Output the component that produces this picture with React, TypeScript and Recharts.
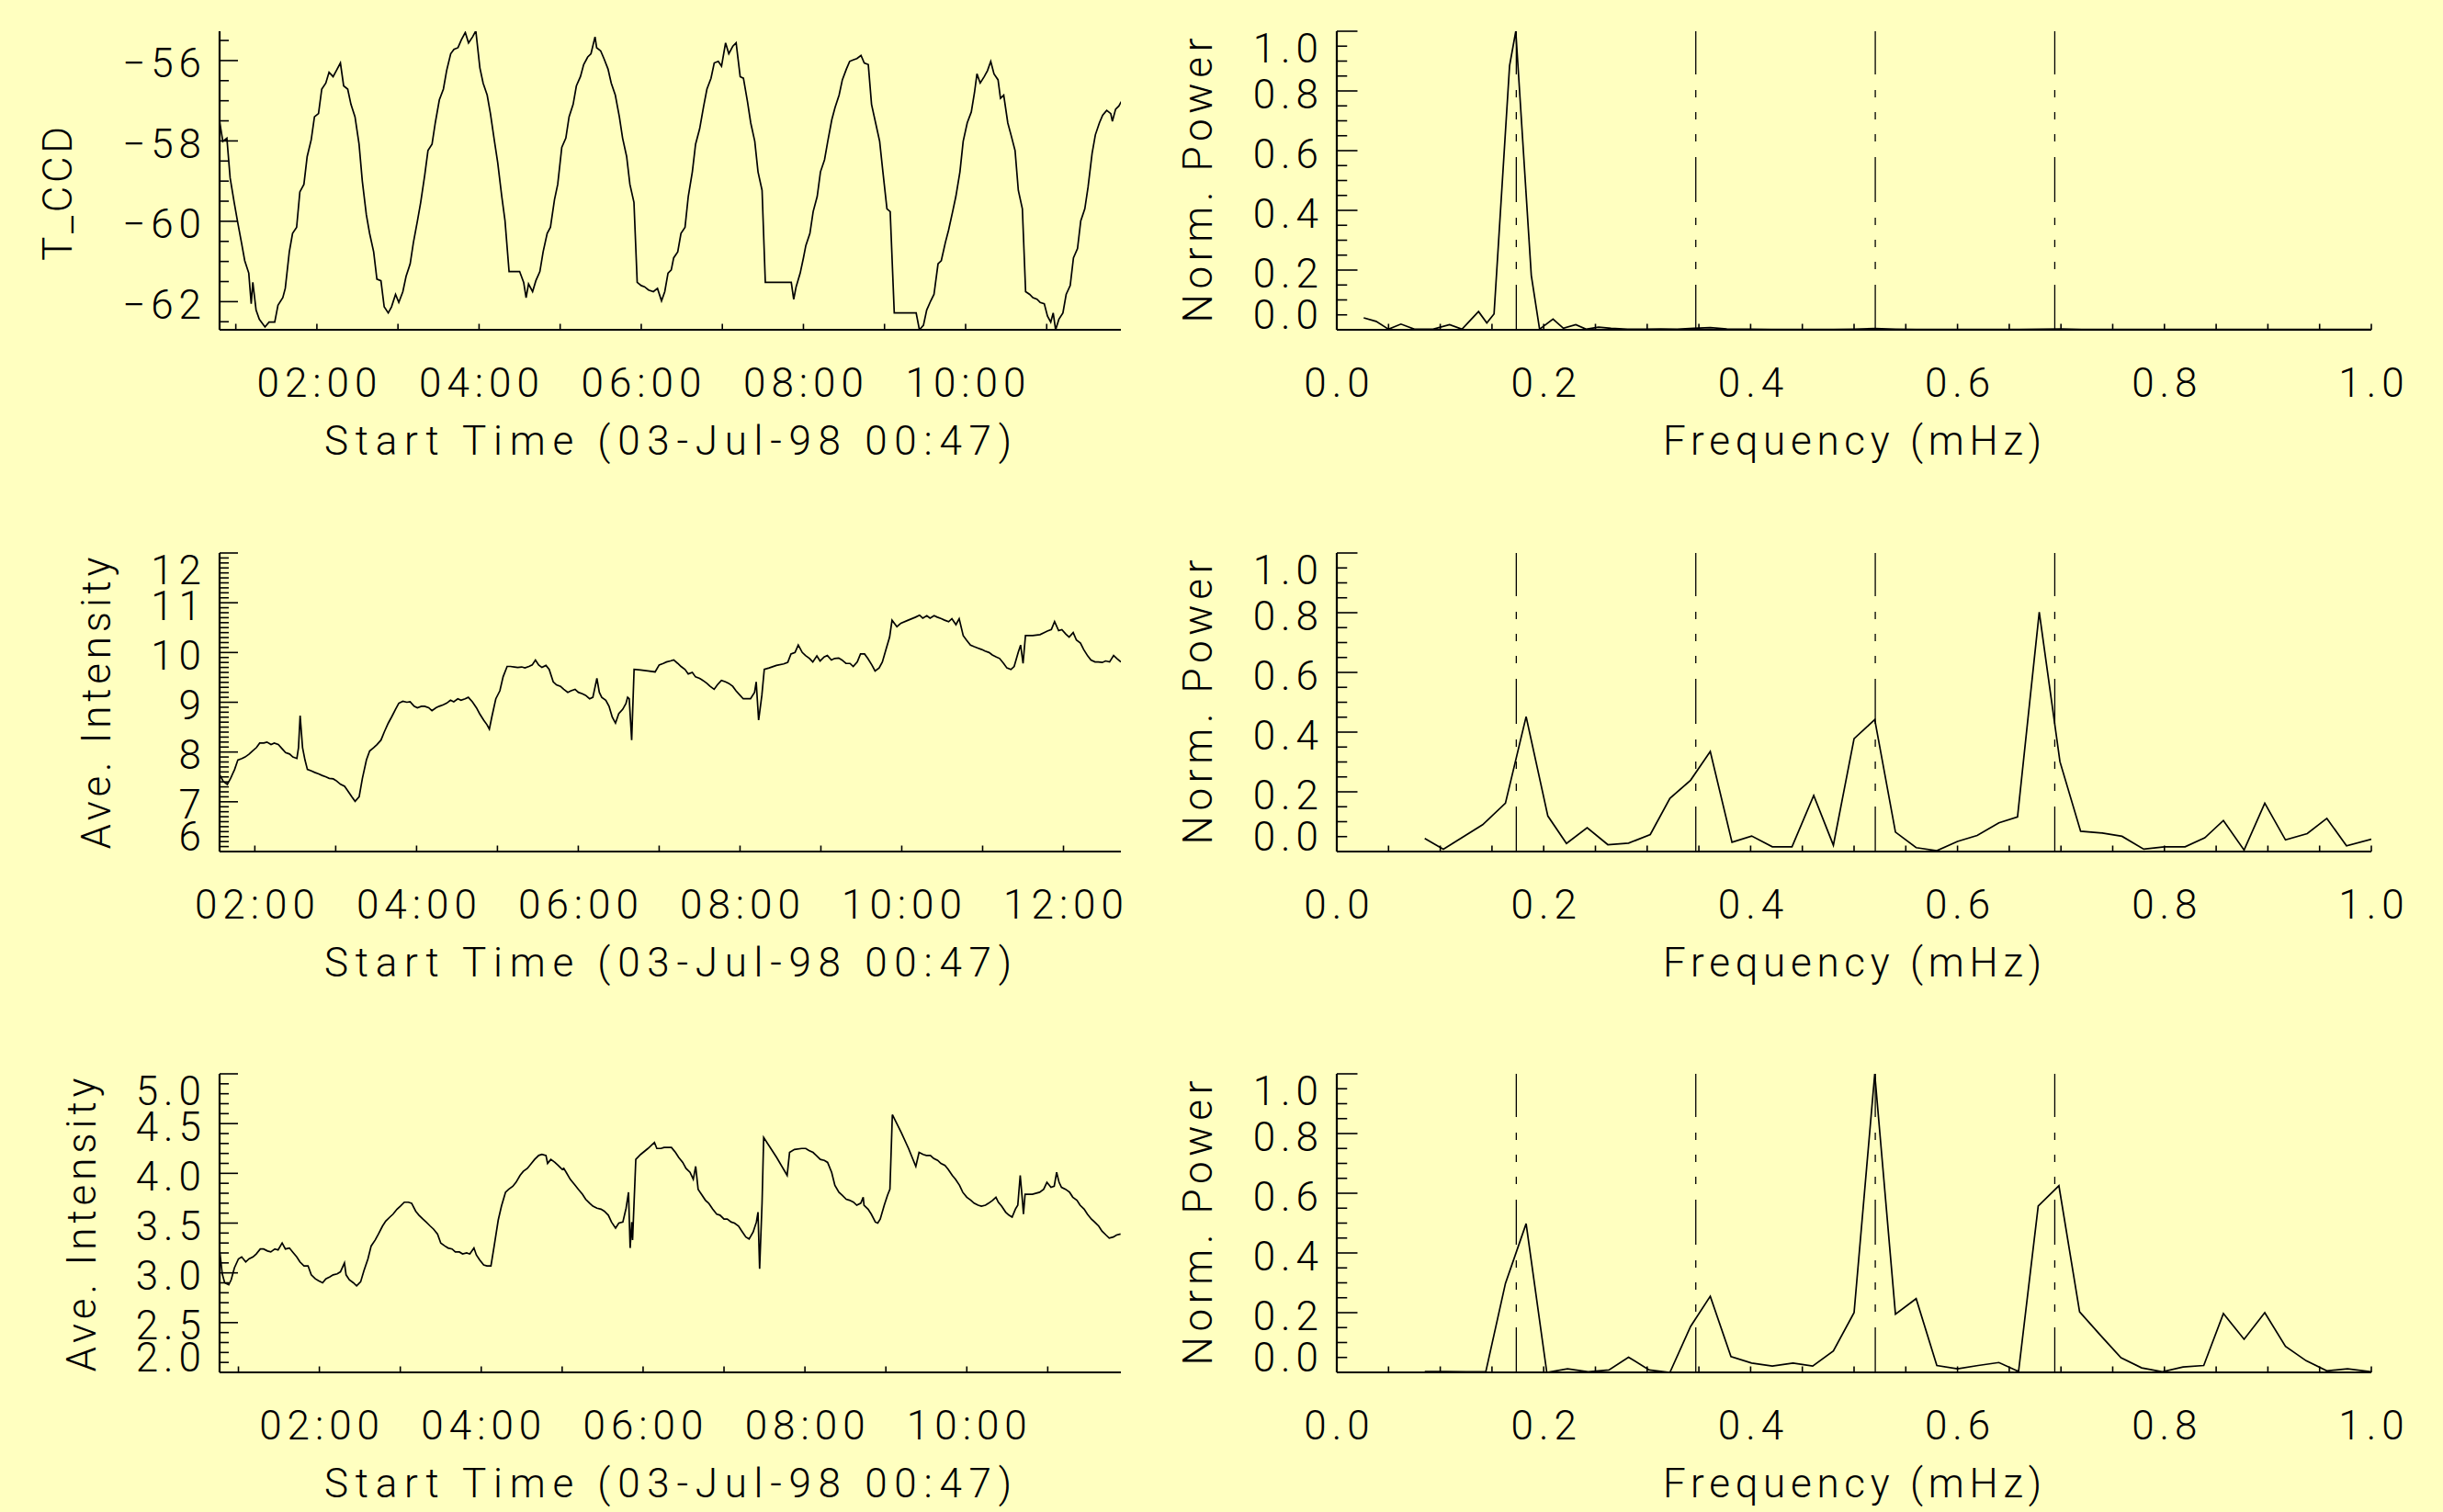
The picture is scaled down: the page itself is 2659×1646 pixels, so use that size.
import React from 'react';
import { LineChart, Line, XAxis, YAxis, ReferenceLine } from 'recharts';

// ---------------- data ----------------
// Panel 1: CCD temperature vs time (hours of 03-Jul-98)
const tccdTime = [
  0.80,0.84,0.89,0.93,0.98,1.02,1.07,1.11,1.16,1.19,
  1.21,1.25,1.29,1.36,1.41,1.48,1.52,1.58,1.61,1.66,
  1.70,1.75,1.79,1.84,1.88,1.93,1.97,2.02,2.06,2.11,
  2.15,2.20,2.24,2.29,2.33,2.38,2.42,2.47,2.52,2.56,
  2.61,2.65,2.70,2.74,2.79,2.83,2.88,2.92,2.97,3.01,
  3.06,3.10,3.15,3.19,3.24,3.28,3.33,3.37,3.42,3.46,
  3.51,3.56,3.60,3.65,3.69,3.74,3.78,3.83,3.87,3.92,
  3.96,4.01,4.05,4.10,4.14,4.19,4.23,4.28,4.32,4.37,
  4.41,4.46,4.50,4.55,4.58,4.61,4.66,4.70,4.75,4.79,
  4.84,4.88,4.93,4.97,5.02,5.07,5.11,5.16,5.20,5.25,
  5.29,5.34,5.38,5.43,5.45,5.50,5.54,5.59,5.63,5.68,
  5.73,5.77,5.82,5.86,5.91,5.95,6.00,6.04,6.09,6.15,
  6.20,6.25,6.29,6.33,6.37,6.40,6.45,6.49,6.54,6.58,
  6.63,6.67,6.72,6.77,6.81,6.86,6.90,6.95,6.99,7.04,
  7.08,7.13,7.17,7.22,7.26,7.31,7.35,7.40,7.44,7.49,
  7.53,7.62,7.76,7.85,7.88,7.91,7.96,8.00,8.03,8.08,
  8.12,8.17,8.21,8.26,8.30,8.35,8.39,8.44,8.48,8.53,
  8.57,8.62,8.66,8.71,8.75,8.80,8.84,8.89,8.94,8.98,
  9.03,9.07,9.12,9.21,9.34,9.39,9.43,9.48,9.52,9.57,
  9.61,9.66,9.70,9.75,9.79,9.84,9.88,9.93,9.97,10.02,
  10.07,10.11,10.14,10.18,10.23,10.27,10.31,10.35,10.40,10.43,
  10.47,10.52,10.56,10.61,10.65,10.70,10.74,10.79,10.83,10.88,
  10.92,10.97,11.01,11.05,11.08,11.11,11.15,11.20,11.24,11.29,
  11.33,11.38,11.42,11.47,11.51,11.56,11.60,11.65,11.69,11.74,
  11.79,11.81,11.85,11.89,11.92,
];
const tccdValue = [
  -57.51,-58.01,-57.93,-58.92,-59.53,-59.99,-60.53,-60.98,-61.29,-62.05,
  -61.52,-62.21,-62.44,-62.63,-62.51,-62.51,-62.09,-61.90,-61.67,-60.76,
  -60.30,-60.15,-59.27,-59.08,-58.39,-57.97,-57.40,-57.32,-56.71,-56.56,
  -56.29,-56.40,-56.25,-56.06,-56.63,-56.71,-57.09,-57.40,-58.08,-59.00,
  -59.84,-60.30,-60.76,-61.44,-61.48,-62.13,-62.28,-62.13,-61.82,-62.02,
  -61.75,-61.37,-61.06,-60.53,-59.99,-59.53,-58.85,-58.24,-58.08,-57.55,
  -56.98,-56.71,-56.25,-55.83,-55.72,-55.68,-55.49,-55.30,-55.56,-55.41,
  -55.26,-56.18,-56.56,-56.86,-57.32,-58.01,-58.54,-59.38,-59.99,-61.25,
  -61.25,-61.25,-61.25,-61.52,-61.90,-61.56,-61.75,-61.48,-61.25,-60.76,
  -60.30,-60.15,-59.46,-59.08,-58.16,-57.93,-57.40,-57.09,-56.63,-56.40,
  -56.10,-55.91,-55.83,-55.41,-55.68,-55.76,-55.95,-56.21,-56.56,-56.86,
  -57.40,-57.93,-58.39,-59.08,-59.53,-61.52,-61.60,-61.63,-61.71,-61.75,
  -61.67,-61.98,-61.75,-61.29,-61.21,-60.91,-60.76,-60.30,-60.15,-59.38,
  -58.77,-58.08,-57.70,-57.13,-56.71,-56.44,-56.06,-56.02,-56.14,-55.56,
  -55.83,-55.64,-55.56,-56.40,-56.44,-57.02,-57.55,-58.01,-58.77,-59.23,
  -61.52,-61.52,-61.52,-61.52,-61.94,-61.63,-61.29,-60.91,-60.60,-60.30,
  -59.76,-59.38,-58.77,-58.47,-58.01,-57.47,-57.17,-56.86,-56.48,-56.21,
  -56.02,-55.98,-55.95,-55.87,-56.06,-56.10,-57.09,-57.55,-58.01,-58.77,
  -59.69,-59.76,-62.28,-62.28,-62.28,-62.28,-62.70,-62.59,-62.21,-61.98,
  -61.82,-61.06,-60.98,-60.53,-60.22,-59.76,-59.38,-58.77,-58.01,-57.55,
  -57.28,-56.79,-56.33,-56.56,-56.40,-56.25,-56.02,-56.33,-56.48,-56.94,
  -56.86,-57.55,-57.85,-58.24,-59.23,-59.69,-61.75,-61.82,-61.90,-61.94,
  -62.02,-62.05,-62.36,-62.51,-62.28,-62.70,-62.44,-62.28,-61.82,-61.60,
  -60.91,-60.68,-59.99,-59.69,-59.15,-58.31,-57.85,-57.55,-57.36,-57.24,
  -57.32,-57.51,-57.21,-57.13,-57.02,
];

// Panel 3: average intensity (first region)
const int1Time = [
  1.57,1.61,1.66,1.70,1.75,1.79,1.84,1.88,1.93,1.97,
  2.02,2.06,2.11,2.15,2.20,2.24,2.29,2.34,2.38,2.43,
  2.47,2.52,2.54,2.56,2.59,2.62,2.65,2.70,2.74,2.79,
  2.83,2.88,2.92,2.97,3.01,3.06,3.11,3.15,3.20,3.24,
  3.29,3.33,3.38,3.42,3.47,3.51,3.56,3.60,3.65,3.69,
  3.74,3.78,3.83,3.88,3.92,3.97,4.01,4.06,4.10,4.15,
  4.19,4.24,4.28,4.33,4.37,4.42,4.46,4.51,4.55,4.60,
  4.64,4.69,4.74,4.78,4.83,4.87,4.90,4.93,4.98,5.03,
  5.07,5.12,5.16,5.21,5.25,5.30,5.34,5.39,5.43,5.47,
  5.51,5.55,5.60,5.64,5.69,5.73,5.78,5.82,5.87,5.91,
  5.96,6.00,6.05,6.09,6.14,6.18,6.23,6.26,6.29,6.34,
  6.38,6.42,6.46,6.50,6.55,6.59,6.61,6.63,6.66,6.69,
  6.77,6.86,6.95,7.00,7.05,7.09,7.14,7.18,7.23,7.27,
  7.32,7.36,7.41,7.45,7.50,7.54,7.59,7.63,7.68,7.72,
  7.77,7.82,7.86,7.91,7.95,8.00,8.04,8.09,8.13,8.18,
  8.20,8.23,8.27,8.30,8.36,8.45,8.54,8.59,8.63,8.68,
  8.72,8.77,8.81,8.86,8.90,8.95,8.99,9.04,9.08,9.13,
  9.17,9.22,9.26,9.31,9.36,9.40,9.45,9.49,9.54,9.58,
  9.63,9.67,9.72,9.76,9.81,9.85,9.88,9.94,9.99,10.08,
  10.17,10.22,10.26,10.31,10.35,10.40,10.44,10.49,10.53,10.58,
  10.62,10.67,10.71,10.76,10.80,10.85,10.89,10.94,10.99,11.03,
  11.08,11.12,11.17,11.21,11.26,11.30,11.35,11.39,11.44,11.47,
  11.50,11.53,11.62,11.71,11.76,11.80,11.85,11.89,11.94,11.98,
  12.03,12.07,12.12,12.16,12.21,12.25,12.30,12.34,12.39,12.43,
  12.48,12.52,12.57,12.62,12.66,12.71,
];
const int1Value = [
  7.53,7.41,7.35,7.47,7.65,7.84,7.87,7.90,7.96,8.02,
  8.09,8.18,8.18,8.20,8.15,8.18,8.15,8.06,7.99,7.96,
  7.90,7.87,8.09,8.73,8.09,7.84,7.65,7.62,7.59,7.56,
  7.53,7.50,7.47,7.46,7.42,7.35,7.31,7.22,7.10,7.01,
  7.10,7.47,7.84,8.02,8.09,8.15,8.24,8.40,8.58,8.70,
  8.86,8.98,9.02,9.00,9.01,8.92,8.89,8.92,8.92,8.89,
  8.83,8.89,8.92,8.95,8.98,9.04,9.01,9.07,9.04,9.07,
  9.10,9.01,8.89,8.77,8.64,8.55,8.46,8.70,9.07,9.23,
  9.51,9.72,9.72,9.71,9.70,9.71,9.69,9.72,9.75,9.85,
  9.75,9.70,9.74,9.66,9.41,9.35,9.32,9.26,9.20,9.23,
  9.26,9.20,9.17,9.14,9.07,9.10,9.48,9.20,9.10,9.04,
  8.92,8.70,8.58,8.77,8.86,8.98,9.10,9.07,8.24,9.66,
  9.65,9.63,9.61,9.75,9.78,9.81,9.83,9.85,9.78,9.72,
  9.66,9.57,9.60,9.51,9.48,9.44,9.38,9.32,9.26,9.35,
  9.44,9.41,9.38,9.32,9.23,9.14,9.07,9.07,9.07,9.20,
  9.41,8.64,9.14,9.66,9.69,9.74,9.77,9.80,9.97,10.00,
  10.15,10.00,9.94,9.88,9.81,9.93,9.83,9.91,9.94,9.85,
  9.88,9.89,9.85,9.78,9.78,9.72,9.81,9.97,9.97,9.88,
  9.75,9.63,9.69,9.81,10.09,10.31,10.65,10.52,10.59,10.65,
  10.71,10.75,10.69,10.74,10.69,10.74,10.71,10.68,10.65,10.62,
  10.68,10.56,10.68,10.34,10.25,10.15,10.12,10.09,10.06,10.03,
  10.00,9.95,9.91,9.88,9.78,9.69,9.66,9.72,10.00,10.15,
  9.78,10.34,10.34,10.36,10.40,10.43,10.46,10.62,10.44,10.46,
  10.37,10.31,10.40,10.25,10.19,10.06,9.93,9.85,9.81,9.81,
  9.80,9.83,9.81,9.94,9.88,9.81,
];

// Panel 5: average intensity (second region)
const int2Time = [
  0.77,0.80,0.83,0.88,0.91,0.95,1.00,1.04,1.09,1.13,
  1.18,1.22,1.27,1.31,1.36,1.40,1.45,1.49,1.54,1.58,
  1.63,1.67,1.72,1.76,1.81,1.86,1.90,1.95,1.99,2.04,
  2.08,2.13,2.17,2.22,2.26,2.31,2.33,2.37,2.42,2.46,
  2.51,2.55,2.60,2.64,2.69,2.73,2.78,2.82,2.87,2.91,
  2.96,3.00,3.05,3.10,3.14,3.19,3.23,3.28,3.32,3.37,
  3.41,3.46,3.50,3.55,3.59,3.64,3.68,3.73,3.77,3.82,
  3.86,3.91,3.94,3.98,4.03,4.07,4.12,4.16,4.21,4.25,
  4.30,4.34,4.39,4.43,4.48,4.52,4.57,4.62,4.66,4.71,
  4.75,4.80,4.82,4.86,4.91,4.95,5.00,5.02,5.05,5.10,
  5.16,5.20,5.25,5.29,5.34,5.38,5.43,5.48,5.52,5.57,
  5.61,5.66,5.70,5.75,5.79,5.82,5.84,5.86,5.87,5.91,
  5.97,6.06,6.14,6.17,6.22,6.26,6.31,6.35,6.40,6.44,
  6.49,6.53,6.58,6.62,6.65,6.68,6.72,6.77,6.81,6.86,
  6.91,6.95,7.00,7.04,7.09,7.13,7.18,7.22,7.27,7.31,
  7.36,7.40,7.42,7.44,7.47,7.49,7.65,7.78,7.81,7.87,
  7.96,8.01,8.05,8.10,8.14,8.19,8.24,8.28,8.33,8.37,
  8.42,8.46,8.51,8.55,8.60,8.64,8.69,8.72,8.73,8.78,
  8.82,8.87,8.90,8.93,8.98,9.02,9.05,9.08,9.19,9.28,
  9.37,9.41,9.46,9.50,9.55,9.59,9.64,9.68,9.73,9.77,
  9.82,9.86,9.91,9.95,10.00,10.05,10.09,10.14,10.18,10.23,
  10.27,10.32,10.36,10.39,10.43,10.48,10.52,10.56,10.60,10.63,
  10.66,10.69,10.70,10.72,10.81,10.90,10.95,10.99,11.04,11.08,
  11.11,11.14,11.17,11.22,11.27,11.31,11.36,11.40,11.45,11.49,
  11.54,11.58,11.63,11.67,11.72,11.76,11.81,11.85,11.90,
];
const int2Value = [
  3.21,2.99,2.90,2.88,2.93,3.05,3.14,3.16,3.11,3.14,
  3.16,3.19,3.24,3.24,3.22,3.21,3.24,3.23,3.30,3.24,
  3.25,3.21,3.16,3.11,3.07,3.07,2.98,2.94,2.92,2.90,
  2.94,2.96,2.98,2.99,3.01,3.10,2.98,2.93,2.90,2.87,
  2.91,3.02,3.14,3.27,3.33,3.39,3.47,3.52,3.56,3.59,
  3.64,3.67,3.71,3.71,3.70,3.62,3.58,3.54,3.51,3.47,
  3.44,3.39,3.30,3.27,3.25,3.24,3.21,3.21,3.19,3.20,
  3.19,3.25,3.18,3.13,3.08,3.07,3.07,3.27,3.53,3.67,
  3.81,3.84,3.87,3.91,3.98,4.02,4.05,4.10,4.14,4.18,
  4.19,4.18,4.10,4.14,4.11,4.08,4.04,4.05,4.01,3.94,
  3.88,3.84,3.79,3.74,3.70,3.67,3.65,3.64,3.62,3.58,
  3.51,3.45,3.50,3.51,3.65,3.81,3.25,3.51,3.33,4.14,
  4.19,4.25,4.31,4.25,4.25,4.26,4.26,4.26,4.21,4.16,
  4.11,4.05,4.01,3.94,4.07,3.84,3.79,3.73,3.70,3.64,
  3.59,3.58,3.54,3.54,3.51,3.50,3.47,3.42,3.36,3.34,
  3.41,3.51,3.61,3.04,3.70,4.36,4.16,3.98,4.21,4.24,
  4.25,4.25,4.23,4.21,4.18,4.14,4.13,4.11,4.01,3.88,
  3.81,3.78,3.74,3.73,3.71,3.68,3.70,3.76,3.68,3.64,
  3.59,3.51,3.50,3.54,3.68,3.78,3.84,4.59,4.41,4.25,
  4.07,4.21,4.19,4.18,4.18,4.15,4.13,4.10,4.08,4.04,
  3.98,3.94,3.88,3.81,3.76,3.73,3.70,3.68,3.67,3.68,
  3.70,3.73,3.76,3.71,3.67,3.61,3.58,3.56,3.64,3.68,
  3.98,3.70,3.59,3.79,3.79,3.81,3.84,3.91,3.86,3.87,
  4.01,3.91,3.86,3.84,3.81,3.76,3.73,3.68,3.64,3.59,
  3.54,3.51,3.47,3.42,3.38,3.35,3.36,3.38,3.39,
];

// Power spectra (normalised)
const spec1Freq = [
  0.026,0.038,0.050,0.062,0.075,0.093,0.109,0.121,0.137,0.145,
  0.152,0.167,0.173,0.188,0.196,0.209,0.219,0.231,0.241,0.253,
  0.265,0.281,0.297,0.313,0.329,0.345,0.361,0.377,0.400,0.420,
  0.440,0.460,0.480,0.500,0.520,0.540,0.560,0.580,0.600,0.620,
  0.640,0.660,0.680,0.700,0.720,0.740,0.760,0.780,0.800,0.820,
  0.840,0.860,0.880,0.900,0.920,0.940,0.960,0.980,1.000,
];
const spec1Power = [
  0.040,0.028,0.002,0.019,0.002,0.002,0.017,0.002,0.061,0.023,
  0.053,0.884,1.000,0.182,0.002,0.036,0.005,0.017,0.002,0.009,
  0.005,0.002,0.002,0.003,0.002,0.005,0.007,0.003,0.002,0.001,
  0.001,0.001,0.001,0.002,0.004,0.002,0.001,0.001,0.001,0.001,
  0.001,0.001,0.002,0.003,0.001,0.001,0.001,0.001,0.001,0.001,
  0.001,0.001,0.001,0.001,0.001,0.001,0.001,0.001,0.001,
];
const spec2Freq = [
  0.085,0.103,0.141,0.163,0.183,0.204,0.222,0.242,0.262,0.282,
  0.303,0.322,0.342,0.361,0.382,0.401,0.421,0.440,0.461,0.480,
  0.500,0.520,0.540,0.560,0.580,0.600,0.619,0.640,0.658,0.679,
  0.699,0.719,0.740,0.759,0.780,0.800,0.820,0.839,0.857,0.877,
  0.897,0.917,0.938,0.957,0.976,1.000,
];
const spec2Power = [
  0.044,0.008,0.090,0.162,0.452,0.119,0.027,0.080,0.023,0.028,
  0.057,0.178,0.239,0.335,0.031,0.052,0.016,0.016,0.188,0.021,
  0.378,0.442,0.065,0.013,0.003,0.034,0.054,0.096,0.116,0.802,
  0.301,0.068,0.062,0.051,0.008,0.016,0.016,0.046,0.104,0.005,
  0.162,0.039,0.060,0.111,0.019,0.041,
];
const spec3Freq = [
  0.085,0.105,0.125,0.144,0.163,0.183,0.203,0.223,0.243,0.263,
  0.282,0.302,0.322,0.342,0.361,0.381,0.401,0.421,0.441,0.460,
  0.480,0.500,0.520,0.540,0.560,0.580,0.600,0.620,0.640,0.659,
  0.678,0.698,0.718,0.738,0.758,0.778,0.798,0.818,0.838,0.857,
  0.877,0.897,0.917,0.937,0.957,0.977,1.000,
];
const spec3Power = [
  0.003,0.003,0.002,0.002,0.298,0.498,0.000,0.012,0.002,0.008,
  0.051,0.008,0.000,0.154,0.255,0.053,0.031,0.021,0.031,0.021,
  0.072,0.200,1.000,0.195,0.247,0.023,0.012,0.023,0.033,0.003,
  0.557,0.625,0.203,0.125,0.049,0.015,0.002,0.018,0.023,0.197,
  0.111,0.200,0.087,0.039,0.005,0.012,0.002,
];
// harmonics of the fundamental (mHz), drawn as dash-dot lines
const harmonicFreqs = [0.1735, 0.347, 0.5205, 0.694];

// ---------------- ticks ----------------
const range = (a: number, b: number, step: number) => {
  const out: number[] = [];
  const n = Math.round((b - a) / step);
  for (let i = 0; i <= n; i++) out.push(+(a + i * step).toFixed(4));
  return out;
};
const hourTicksEarly = [1, 2, 3, 4, 5, 6, 7, 8, 9, 10, 11];
const hourLabelsEarly = [2, 4, 6, 8, 10];
const hourTicksLate = [2, 3, 4, 5, 6, 7, 8, 9, 10, 11, 12];
const hourLabelsLate = [2, 4, 6, 8, 10, 12];
const freqTicks = range(0, 1, 0.05);
const freqLabels = [0, 0.2, 0.4, 0.6, 0.8, 1.0];
const tccdTicks = range(-62.5, -55.5, 0.5);
const tccdLabels = [-62, -60, -58, -56];
const int1Ticks = range(6, 12, 0.1);
const int1Labels = [6, 7, 8, 9, 10, 11, 12];
const int2Ticks = range(2, 5, 0.1);
const int2Labels = [2, 2.5, 3, 3.5, 4, 4.5, 5];
const powerTicks = range(0, 1, 0.05);
const powerLabels = [0, 0.2, 0.4, 0.6, 0.8, 1.0];

// ---------------- style ----------------
const BG = '#FFFFC0';
const INK = '#000000';
const FONT = 'Roboto, "Liberation Sans", "DejaVu Sans", sans-serif';
const TICK_STYLE: React.CSSProperties = { fontFamily: FONT, fontSize: 44, fontWeight: 300, letterSpacing: 6, fill: INK };
const TITLE_STYLE: React.CSSProperties = { fontFamily: FONT, fontSize: 44, fontWeight: 300, fill: INK };
const T = 34;
const PH = 325;
const CH = 512;
const DASH = '49 17 8 16 8 16 8 17';

const hourFmt = (v: number) => `${String(v).padStart(2, '0')}:00`;
const minusFmt = (v: number) => (v < 0 ? '\u2212' + String(Math.abs(v)) : String(v));
const oneDec = (v: number) => v.toFixed(1);
const intFmt = (v: number) => String(v);

type PanelCfg = {
  originX: number; originY: number; plotLeft: number; plotW: number; chartW: number;
  xs: number[]; ys: number[];
  xDomain: [number, number]; yDomain: [number, number];
  xTicks: number[]; xLabels: number[]; xFmt: (v: number) => string;
  yTicks: number[]; yLabels: number[]; yFmt: (v: number) => string;
  yMajorLen: number; xTickLen: number;
  xTitle: string; xTitleLen: number; xTitleCx: number;
  yTitle: string; yTitleLen: number; yTitleBx: number; yTitleCy: number;
  refs?: number[];
};

const near = (arr: number[], v: number) => arr.some((a) => Math.abs(a - v) < 1e-6);

function XTitle({ text, tx, ty, len }: any) {
  return (
    <text x={tx} y={ty} textAnchor="middle" textLength={len} lengthAdjust="spacing" style={TITLE_STYLE}>
      {text}
    </text>
  );
}
function YTitle({ text, tx, ty, len }: any) {
  return (
    <text x={tx} y={ty} transform={`rotate(-90 ${tx} ${ty})`} textAnchor="middle" textLength={len} lengthAdjust="spacing" style={TITLE_STYLE}>
      {text}
    </text>
  );
}

function Panel({ c }: { c: PanelCfg }) {
  const data = c.xs.map((x, i) => ({ x, y: c.ys[i] }));
  const bottom = T + PH;
  const axL = c.plotLeft;
  const axR = c.plotLeft + c.plotW;
  const axisLine = { stroke: INK, strokeWidth: 2.2 };

  const bottomTick = (p: any) => {
    const x = p.payload?.coordinate ?? p.x;
    const v = p.payload?.value;
    return (
      <g>
        <line x1={x} x2={x} y1={bottom} y2={bottom - c.xTickLen} stroke={INK} strokeWidth={1.6} />
        {near(c.xLabels, v) && (
          <text x={x + 3} y={bottom + 73} textAnchor="middle" style={TICK_STYLE}>{c.xFmt(v)}</text>
        )}
      </g>
    );
  };
  const topTick = (p: any) => {
    const x = p.payload?.coordinate ?? p.x;
    return <line x1={x} x2={x} y1={T} y2={T + c.xTickLen} stroke={INK} strokeWidth={1.6} />;
  };
  const leftTick = (p: any) => {
    const y = p.payload?.coordinate ?? p.y;
    const v = p.payload?.value;
    const major = near(c.yLabels, v);
    const len = major ? c.yMajorLen : c.yMajorLen / 2;
    let off = 3;
    if (Math.abs(v - c.yDomain[1]) < 1e-6) off = 18;
    else if (Math.abs(v - c.yDomain[0]) < 1e-6) off = -17;
    return (
      <g>
        <line x1={axL} x2={axL + len} y1={y} y2={y} stroke={INK} strokeWidth={1.6} />
        {major && (
          <text x={axL - 14} y={y + off + 15.5} textAnchor="end" style={TICK_STYLE}>{c.yFmt(v)}</text>
        )}
      </g>
    );
  };
  const rightTick = (p: any) => {
    const y = p.payload?.coordinate ?? p.y;
    const v = p.payload?.value;
    const len = near(c.yLabels, v) ? c.yMajorLen : c.yMajorLen / 2;
    return <line x1={axR} x2={axR - len} y1={y} y2={y} stroke={INK} strokeWidth={1.6} />;
  };

  return (
    <div style={{ position: 'absolute', left: c.originX, top: c.originY }}>
      <LineChart
        width={c.chartW}
        height={CH}
        data={data}
        margin={{ top: T, right: c.chartW - axR, bottom: 0, left: 0 }}
      >
        <XAxis
          xAxisId="b" dataKey="x" type="number" domain={c.xDomain} ticks={c.xTicks} interval={0}
          allowDataOverflow height={CH - T - PH} tick={bottomTick} tickLine={false} axisLine={axisLine}
          label={<XTitle text={c.xTitle} tx={c.xTitleCx} ty={bottom + 136} len={c.xTitleLen} />}
        />
        <XAxis
          xAxisId="t" orientation="top" dataKey="x" type="number" domain={c.xDomain} ticks={c.xTicks}
          interval={0} allowDataOverflow height={0} tick={topTick} tickLine={false} axisLine={axisLine}
        />
        <YAxis
          yAxisId="l" type="number" domain={c.yDomain} ticks={c.yTicks} interval={0} allowDataOverflow
          width={c.plotLeft} tick={leftTick} tickLine={false} axisLine={axisLine}
          label={<YTitle text={c.yTitle} tx={c.yTitleBx} ty={c.yTitleCy} len={c.yTitleLen} />}
        />
        <YAxis
          yAxisId="r" orientation="right" type="number" domain={c.yDomain} ticks={c.yTicks} interval={0}
          allowDataOverflow width={0} tick={rightTick} tickLine={false} axisLine={axisLine}
        />
        {(c.refs || []).map((f) => (
          <ReferenceLine key={f} x={f} xAxisId="b" yAxisId="l" stroke={INK} strokeWidth={1.3} strokeDasharray={DASH} />
        ))}
        <Line
          xAxisId="b" yAxisId="l" dataKey="y" type="linear" dot={false} activeDot={false}
          stroke={INK} strokeWidth={1.7} isAnimationActive={false}
        />
      </LineChart>
    </div>
  );
}

const LEFT = { originX: 0, plotLeft: 239, plotW: 981, chartW: 1240, yMajorLen: 20, xTickLen: 6.5 };
const RIGHT = { originX: 1250, plotLeft: 205, plotW: 1126, chartW: 1409, yMajorLen: 22.5, xTickLen: 6.5 };
const TIME_TITLE = 'Start Time (03-Jul-98 00:47)';
const FREQ_TITLE = 'Frequency (mHz)';

const specPanel = (originY: number, xs: number[], ys: number[]): PanelCfg => ({
  ...RIGHT, originY, xs, ys,
  xDomain: [0, 1], yDomain: [0, 1],
  xTicks: freqTicks, xLabels: freqLabels, xFmt: oneDec,
  yTicks: powerTicks, yLabels: powerLabels, yFmt: oneDec,
  xTitle: FREQ_TITLE, xTitleLen: 412, xTitleCx: 766,
  yTitle: 'Norm. Power', yTitleLen: 310, yTitleBx: 69, yTitleCy: T + PH / 2,
  refs: harmonicFreqs,
});

const panels: PanelCfg[] = [
  {
    ...LEFT, originY: 0, xs: tccdTime, ys: tccdValue,
    xDomain: [0.80, 11.915], yDomain: [-62.70, -55.27],
    xTicks: hourTicksEarly, xLabels: hourLabelsEarly, xFmt: hourFmt,
    yTicks: tccdTicks, yLabels: tccdLabels, yFmt: minusFmt,
    xTitle: TIME_TITLE, xTitleLen: 748, xTitleCx: 727,
    yTitle: 'T_CCD', yTitleLen: 146, yTitleBx: 78, yTitleCy: 211,
  },
  specPanel(0, spec1Freq, spec1Power),
  {
    ...LEFT, originY: 568, xs: int1Time, ys: int1Value,
    xDomain: [1.564, 12.71], yDomain: [6, 12],
    xTicks: hourTicksLate, xLabels: hourLabelsLate, xFmt: hourFmt,
    yTicks: int1Ticks, yLabels: int1Labels, yFmt: intFmt,
    xTitle: TIME_TITLE, xTitleLen: 748, xTitleCx: 727,
    yTitle: 'Ave. Intensity', yTitleLen: 318, yTitleBx: 120, yTitleCy: 197.5,
  },
  specPanel(568, spec2Freq, spec2Power),
  {
    ...LEFT, originY: 1135, xs: int2Time, ys: int2Value,
    xDomain: [0.767, 11.904], yDomain: [2, 5],
    xTicks: hourTicksEarly, xLabels: hourLabelsEarly, xFmt: hourFmt,
    yTicks: int2Ticks, yLabels: int2Labels, yFmt: oneDec,
    xTitle: TIME_TITLE, xTitleLen: 748, xTitleCx: 727,
    yTitle: 'Ave. Intensity', yTitleLen: 320, yTitleBx: 104, yTitleCy: 198.5,
  },
  specPanel(1135, spec3Freq, spec3Power),
];

export default function App() {
  return (
    <div style={{ position: 'absolute', left: 0, top: 0, width: 2659, height: 1646, background: BG, overflow: 'hidden' }}>
      {panels.map((c, i) => (
        <Panel key={i} c={c} />
      ))}
    </div>
  );
}
